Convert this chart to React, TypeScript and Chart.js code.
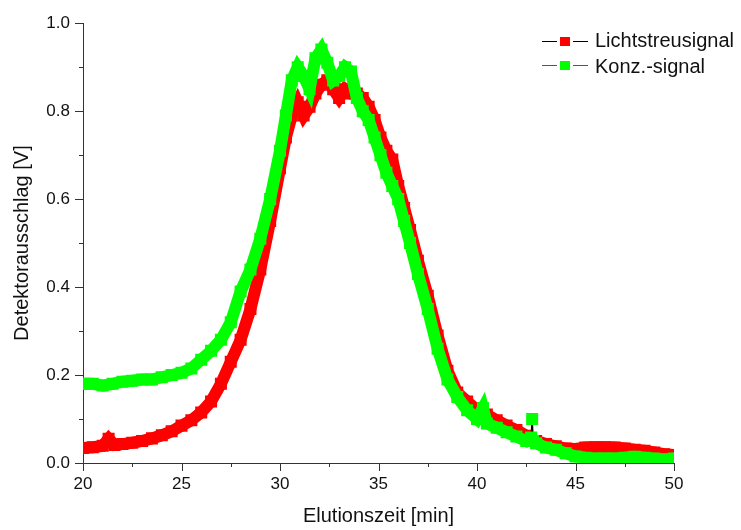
import React, { useEffect, useRef } from "react";
import { Chart, registerables } from "chart.js";

Chart.register(...registerables);

// ---- data ----
const lichtTimes = [
  20, 20.5, 21, 21.3, 21.6, 22, 22.5, 23, 23.5, 24, 24.5, 25, 25.5, 26, 26.5, 27, 27.5, 28, 28.5, 29, 29.5,
  30, 30.3, 30.6, 30.9, 31.2, 31.5, 31.8, 32.1, 32.4, 32.7, 33, 33.3, 33.6, 33.9, 34.2, 34.5, 34.8, 35.1,
  35.4, 35.7, 36, 36.3, 36.6, 37, 37.5, 38, 38.5, 39, 39.5, 40, 40.5, 41, 41.5, 42, 42.5, 43, 43.5, 44,
  44.5, 45, 45.5, 46, 46.5, 47, 47.5, 48, 48.5, 49, 49.5, 50,
];
const lichtValues = [
  0.034, 0.036, 0.039, 0.055, 0.041, 0.043, 0.046, 0.05, 0.056, 0.063, 0.072, 0.085, 0.097, 0.115, 0.14, 0.18,
  0.23, 0.28, 0.35, 0.44, 0.55, 0.67, 0.74, 0.79, 0.82, 0.79, 0.81, 0.84, 0.86, 0.87, 0.85, 0.83, 0.85, 0.84,
  0.84, 0.83, 0.81, 0.78, 0.74, 0.71, 0.69, 0.63, 0.58, 0.53, 0.46, 0.38, 0.29, 0.21, 0.16, 0.14, 0.12, 0.11,
  0.097, 0.085, 0.075, 0.062, 0.05, 0.043, 0.038, 0.033, 0.032, 0.035, 0.036, 0.036, 0.035, 0.033, 0.03,
  0.028, 0.024, 0.02, 0.018,
];
const konzTimes = [
  20, 20.5, 21, 21.5, 22, 22.5, 23, 23.5, 24, 24.5, 25, 25.5, 26, 26.5, 27, 27.5, 28, 28.5, 29, 29.5, 30,
  30.3, 30.6, 30.9, 31.2, 31.5, 31.8, 32.1, 32.4, 32.7, 33, 33.3, 33.6, 33.9, 34.2, 34.5, 34.8, 35.1, 35.4,
  35.7, 36, 36.3, 36.6, 37, 37.5, 38, 38.5, 39, 39.5, 40, 40.3, 40.5, 41, 41.5, 42, 42.5, 42.75, 42.8, 42.85,
  43, 43.5, 44, 44.5, 45, 45.5, 46, 46.5, 47, 47.5, 48, 48.5, 49, 49.5, 50,
];
const konzValues = [
  0.18, 0.18, 0.176, 0.18, 0.185, 0.187, 0.19, 0.19, 0.195, 0.2, 0.205, 0.215, 0.235, 0.255, 0.28, 0.32,
  0.39, 0.44, 0.51, 0.6, 0.71, 0.79, 0.87, 0.9, 0.88, 0.85, 0.92, 0.94, 0.91, 0.87, 0.88, 0.9, 0.89, 0.83,
  0.8, 0.78, 0.74, 0.7, 0.66, 0.63, 0.6, 0.55, 0.5, 0.43, 0.35, 0.26, 0.19, 0.15, 0.12, 0.1, 0.125, 0.09,
  0.08, 0.07, 0.06, 0.05, 0.058, 0.1, 0.05, 0.045, 0.035, 0.03, 0.022, 0.015, 0.012, 0.01, 0.01, 0.01,
  0.012, 0.014, 0.012, 0.01, 0.008, 0.01,
];
const seriesNames = ["Lichtstreusignal", "Konz.-signal"];
const seriesColors = ["#ff0000", "#00ff00"];
const xTicksMajor = [20, 25, 30, 35, 40, 45, 50];
const yTicksMajor = [0, 0.2, 0.4, 0.6, 0.8, 1.0];
const xTitle = "Elutionszeit [min]";
const yTitle = "Detektorausschlag [V]";

const FONT = "'Liberation Sans', Arial, sans-serif";
const OUTLIER_INDEX = konzTimes.indexOf(42.8);

const decorPlugin = {
  id: "decor",
  afterDraw(chart: any) {
    const ctx = chart.ctx;
    const xs = chart.scales.x;
    const ys = chart.scales.y;
    const area = chart.chartArea;
    ctx.save();
    ctx.strokeStyle = "#333";
    ctx.lineWidth = 1;
    // x ticks (major + minor)
    for (let i = 0; i < xTicksMajor.length; i++) {
      const v = xTicksMajor[i];
      const px = Math.round(xs.getPixelForValue(v)) + 0.5;
      ctx.beginPath();
      ctx.moveTo(px, area.bottom);
      ctx.lineTo(px, area.bottom + 8);
      ctx.stroke();
      if (i < xTicksMajor.length - 1) {
        const mv = (v + xTicksMajor[i + 1]) / 2;
        const mpx = Math.round(xs.getPixelForValue(mv)) + 0.5;
        ctx.beginPath();
        ctx.moveTo(mpx, area.bottom);
        ctx.lineTo(mpx, area.bottom + 4);
        ctx.stroke();
      }
    }
    for (let i = 0; i < yTicksMajor.length; i++) {
      const v = yTicksMajor[i];
      const py = Math.round(ys.getPixelForValue(v)) + 0.5;
      ctx.beginPath();
      ctx.moveTo(area.left, py);
      ctx.lineTo(area.left - 8, py);
      ctx.stroke();
      if (i < yTicksMajor.length - 1) {
        const mv = (v + yTicksMajor[i + 1]) / 2;
        const mpy = Math.round(ys.getPixelForValue(mv)) + 0.5;
        ctx.beginPath();
        ctx.moveTo(area.left, mpy);
        ctx.lineTo(area.left - 4, mpy);
        ctx.stroke();
      }
    }
    // axis titles
    ctx.fillStyle = "#111";
    ctx.font = `20px ${FONT}`;
    ctx.textAlign = "center";
    ctx.textBaseline = "middle";
    ctx.fillText(xTitle, (area.left + area.right) / 2, 516);
    ctx.save();
    ctx.translate(22, (area.top + area.bottom) / 2);
    ctx.rotate(-Math.PI / 2);
    ctx.fillText(yTitle, 0, 0);
    ctx.restore();
    // legend
    const rows = [
      { y: 41, base: 47, line: "#000" },
      { y: 65, base: 73, line: "#555" },
    ];
    ctx.textAlign = "left";
    ctx.textBaseline = "alphabetic";
    rows.forEach((r, i) => {
      ctx.strokeStyle = r.line;
      ctx.beginPath();
      ctx.moveTo(542, r.y + 0.5);
      ctx.lineTo(557, r.y + 0.5);
      ctx.moveTo(573, r.y + 0.5);
      ctx.lineTo(588, r.y + 0.5);
      ctx.stroke();
      ctx.fillStyle = seriesColors[i];
      ctx.fillRect(560, r.y - 4, 10, 9);
      ctx.fillStyle = "#111";
      ctx.fillText(seriesNames[i], 595, r.base);
    });
    ctx.restore();
  },
};

export default function App() {
  const ref = useRef<HTMLCanvasElement>(null);
  useEffect(() => {
    if (!ref.current) return;
    const mk = (times: number[], vals: number[]) => times.map((t, i) => ({ x: t, y: vals[i] }));
    const chart = new Chart(ref.current, {
      type: "line",
      data: {
        datasets: [
          {
            label: seriesNames[0],
            data: mk(lichtTimes, lichtValues),
            borderColor: seriesColors[0],
            backgroundColor: seriesColors[0],
            borderWidth: 12,
            pointStyle: "rect",
            pointRadius: 8.5,
            pointBorderWidth: 0,
            pointBackgroundColor: seriesColors[0],
            fill: false,
            tension: 0,
            order: 2,
            clip: 0,
          },
          {
            label: seriesNames[1],
            data: mk(konzTimes, konzValues),
            borderColor: seriesColors[1],
            backgroundColor: seriesColors[1],
            borderWidth: 12,
            pointStyle: "rect",
            pointRadius: 8.5,
            pointBorderWidth: 0,
            pointBackgroundColor: seriesColors[1],
            fill: false,
            tension: 0,
            order: 1,
            clip: 0,
            segment: {
              borderColor: (c: any) =>
                c.p0DataIndex === OUTLIER_INDEX || c.p1DataIndex === OUTLIER_INDEX ? "#000" : undefined,
              borderWidth: (c: any) =>
                c.p0DataIndex === OUTLIER_INDEX || c.p1DataIndex === OUTLIER_INDEX ? 1.5 : undefined,
            },
          } as any,
        ],
      },
      options: {
        animation: false,
        responsive: false,
        maintainAspectRatio: false,
        layout: { padding: { top: 23, right: 67, left: 0, bottom: 0 } },
        plugins: { legend: { display: false }, tooltip: { enabled: false } },
        scales: {
          x: {
            type: "linear",
            min: 20,
            max: 50,
            grid: { display: true, color: "rgba(0,0,0,0)", drawTicks: false },
            border: { display: true, color: "#333", width: 1 },
            ticks: {
              stepSize: 5,
              padding: 11,
              color: "#111",
              font: { family: FONT, size: 17 },
              maxRotation: 0,
            },
            afterFit: (s: any) => {
              s.height = 67;
            },
          },
          y: {
            type: "linear",
            min: 0,
            max: 1,
            grid: { display: true, color: "rgba(0,0,0,0)", drawTicks: false },
            border: { display: true, color: "#333", width: 1 },
            ticks: {
              stepSize: 0.2,
              padding: 13,
              color: "#111",
              font: { family: FONT, size: 17 },
              callback: (v: any) => Number(v).toFixed(1),
            },
            afterFit: (s: any) => {
              s.width = 83;
            },
          },
        },
      },
      plugins: [decorPlugin],
    });
    return () => chart.destroy();
  }, []);
  return (
    <div style={{ position: "fixed", left: 0, top: 0, width: 741, height: 530, background: "#fff" }}>
      <canvas ref={ref} width={741} height={530} style={{ width: 741, height: 530, display: "block" }} />
    </div>
  );
}
